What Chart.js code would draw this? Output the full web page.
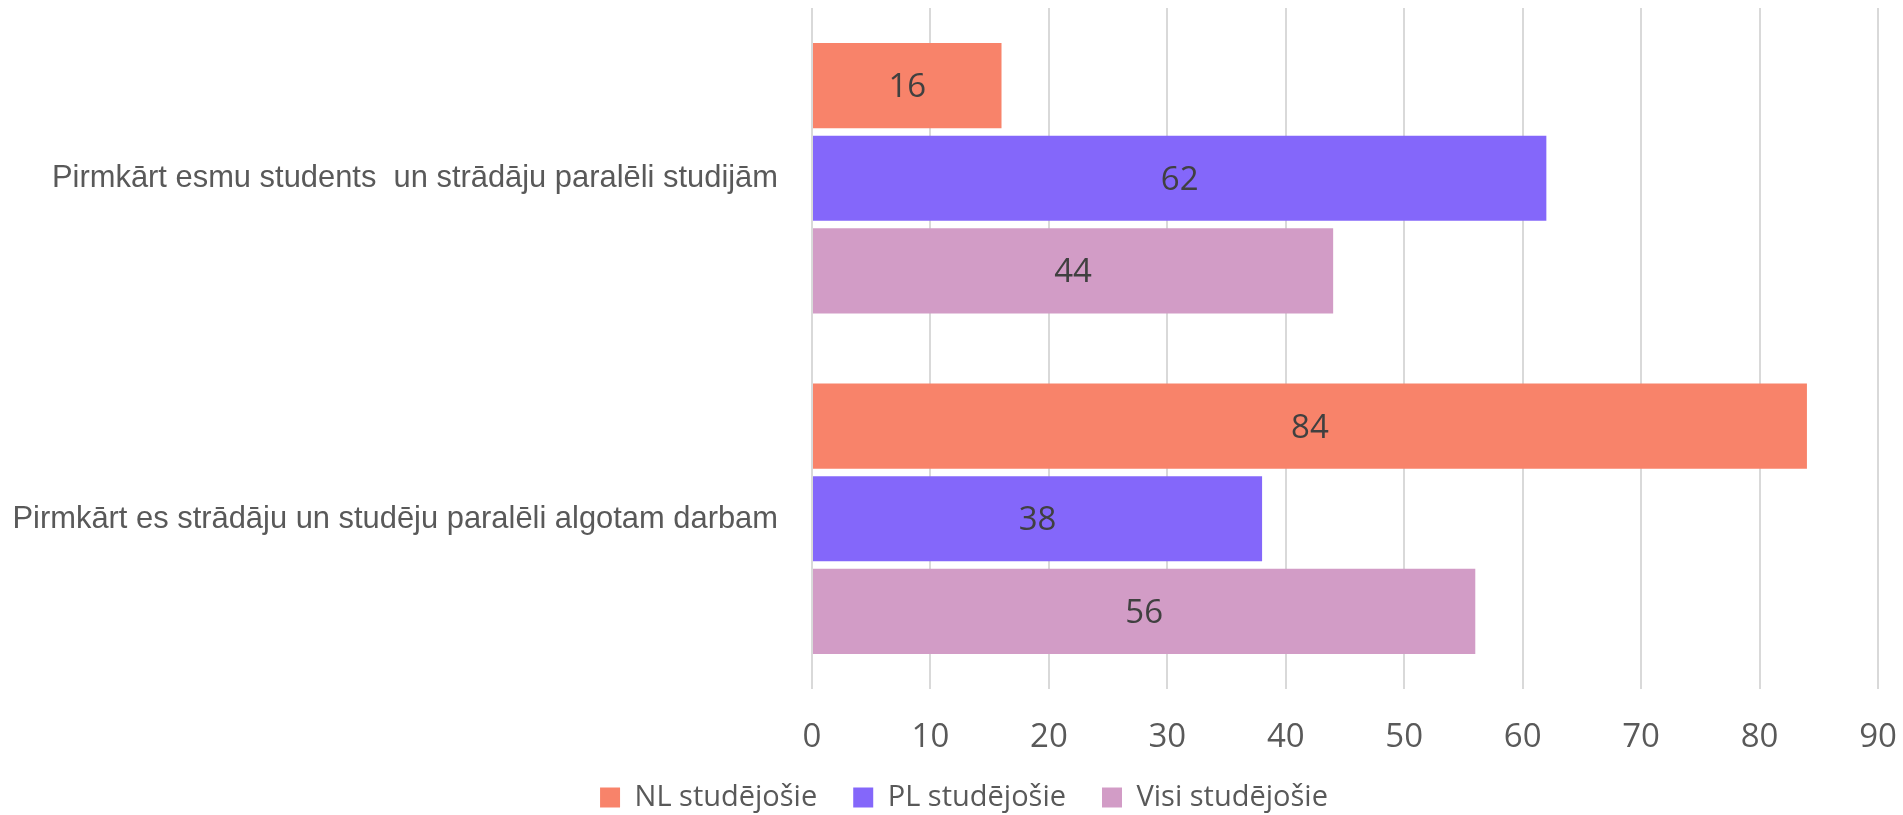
<!DOCTYPE html>
<html>
<head>
<meta charset="utf-8">
<script src="https://cdn.jsdelivr.net/npm/chart.js@4/dist/chart.umd.min.js"></script>
<style>
  html, body { margin: 0; padding: 0; background: #fff; }
  #wrap { width: 1903px; height: 815px; }
</style>
</head>
<body>
<div id="wrap"><canvas id="studChart" width="1903" height="815"></canvas></div>
<script>
const categories = [
    'Pirmkārt esmu students  un strādāju paralēli studijām',
    'Pirmkārt es strādāju un studēju paralēli algotam darbam'
];
const nlValues = [16, 84];
const plValues = [62, 38];
const allValues = [44, 56];
const xTicks = [0, 10, 20, 30, 40, 50, 60, 70, 80, 90];

// value in the middle of each bar + narrow category labels on the left
const barLabels = {
    id: 'barLabels',
    afterDatasetsDraw(chart) {
        const ctx = chart.ctx;
        ctx.save();
        ctx.font = '33px "Open Sans", sans-serif';
        ctx.fillStyle = '#404040';
        ctx.textAlign = 'center';
        ctx.textBaseline = 'middle';
        chart.data.datasets.forEach((ds, i) => {
            chart.getDatasetMeta(i).data.forEach((bar, j) => {
                ctx.fillText(ds.data[j], (bar.x + bar.base) / 2, bar.y + 2);
            });
        });
        ctx.restore();

        const yScale = chart.scales.y;
        const right = chart.chartArea.left - 34;
        ctx.save();
        ctx.font = '32px "Liberation Sans", Arial, sans-serif';
        ctx.fillStyle = '#595959';
        ctx.textAlign = 'right';
        ctx.textBaseline = 'middle';
        chart.data.labels.forEach((lab, i) => {
            ctx.save();
            ctx.translate(right, yScale.getPixelForValue(i));
            ctx.scale(0.965, 1);
            ctx.fillText(lab, 0, 0);
            ctx.restore();
        });
        ctx.restore();
    }
};

const ctx = document.getElementById('studChart').getContext('2d');
const studChart = new Chart(ctx, {
    type: 'bar',
    data: {
        labels: categories,
        datasets: [
            { label: 'NL studējošie', data: nlValues, backgroundColor: '#f8836a' },
            { label: 'PL studējošie', data: plValues, backgroundColor: '#8467fa' },
            { label: 'Visi studējošie', data: allValues, backgroundColor: '#d29cc6' }
        ]
    },
    options: {
        indexAxis: 'y',
        responsive: false,
        animation: false,
        categoryPercentage: 0.816,
        barPercentage: 0.92,
        layout: {
            autoPadding: false,
            padding: { top: 8, right: 25, left: 50, bottom: -7 }
        },
        scales: {
            x: {
                min: 0,
                max: 90,
                afterBuildTicks: (s) => { s.ticks = xTicks.map(v => ({ value: v })); },
                grid: { color: '#d9d9d9', lineWidth: 2, drawTicks: false },
                border: { display: false },
                ticks: {
                    padding: 29,
                    color: '#595959',
                    font: { family: '"Open Sans", sans-serif', size: 33 }
                },
                afterFit: (s) => {
                    s.height = 58;
                    s.paddingLeft = 0;
                    s.paddingRight = 0;
                }
            },
            y: {
                grid: { display: false },
                border: { display: false },
                ticks: { display: false },
                afterFit: (s) => { s.width = 762; }
            }
        },
        plugins: {
            legend: {
                position: 'bottom',
                labels: {
                    boxWidth: 20,
                    boxHeight: 20,
                    padding: 36,
                    color: '#595959',
                    font: { family: '"Open Sans", sans-serif', size: 29 }
                }
            },
            tooltip: { enabled: false }
        }
    },
    plugins: [barLabels]
});
</script>
</body>
</html>
